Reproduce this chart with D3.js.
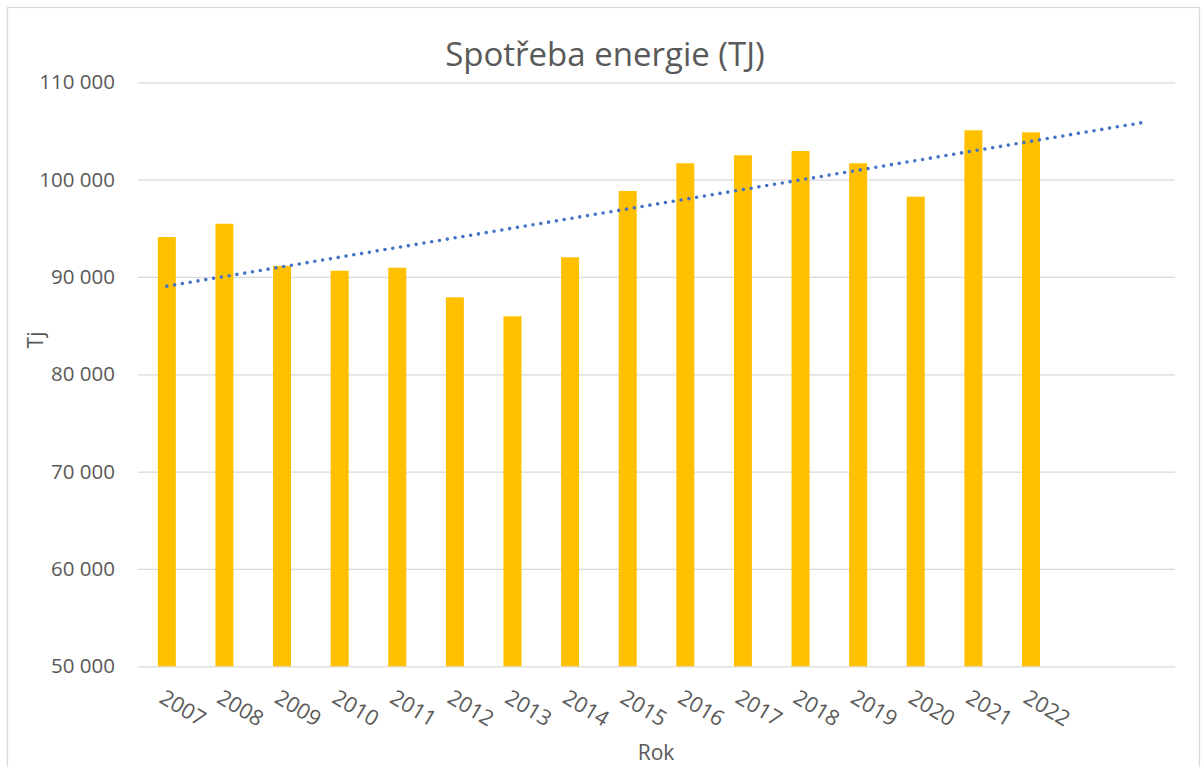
<!DOCTYPE html>
<html>
<head>
<meta charset="utf-8">
<script src="https://cdn.jsdelivr.net/npm/d3@7"></script>
<style>
  body{margin:0;background:#fff;}
  svg text{font-family:"Open Sans",sans-serif;fill:#595959;}
</style>
</head>
<body>
<svg id="chart" width="1202" height="767"></svg>
<script>
// data
var years=['2007','2008','2009','2010','2011','2012','2013','2014','2015','2016','2017','2018','2019','2020','2021','2022'];
var values=[94100,95470,91130,90640,90950,87910,85960,92020,98830,101680,102500,102940,101680,98250,105070,104860];
var forecastSlots=['2023','2024']; // trend goes 2 periods forward, no labels there
var yTicks=[50000,60000,70000,80000,90000,100000,110000];
var title='Spotřeba energie (TJ)';
var yTitle='Tj', xTitle='Rok';

var svg=d3.select('#chart');
var m={left:138,right:1175,top:82.3,bottom:666.3};

// outer chart border
svg.append('rect')
  .attr('x',7.5).attr('y',7.5).attr('width',1192).attr('height',775)
  .attr('fill','none').attr('stroke','#d9d9d9').attr('stroke-width',1.3);

var allCats=years.concat(forecastSlots);
var x=d3.scaleBand().domain(allCats).range([m.left,m.right]).paddingInner(0.6875).paddingOuter(0.34375);
var y=d3.scaleLinear().domain([50000,110000]).range([m.bottom,m.top]);
var fmt=function(v){return d3.format(',')(v).replace(/,/g,' ');};

// gridlines + y labels
var yAxis=svg.append('g').attr('transform','translate('+m.left+',0)')
  .call(d3.axisLeft(y).tickValues(yTicks).tickSize(-(m.right-m.left)).tickPadding(23).tickFormat(fmt));
yAxis.select('.domain').remove();
yAxis.selectAll('.tick line').attr('stroke','#d9d9d9').attr('stroke-width',1.3);
yAxis.selectAll('.tick text').attr('font-size',20.5).attr('fill','#595959');

// bars
svg.append('g').selectAll('rect').data(years).join('rect')
  .attr('x',function(d){return x(d);})
  .attr('width',x.bandwidth())
  .attr('y',function(d,i){return y(values[i]);})
  .attr('height',function(d,i){return y(50000)-y(values[i]);})
  .attr('fill','#ffc000');

// linear trend (least squares), forecast forward 2 periods
var n=values.length, xs=d3.range(1,n+1);
var mx=d3.mean(xs), my=d3.mean(values);
var slope=d3.sum(xs,function(v,i){return (v-mx)*(values[i]-my);})/d3.sum(xs,function(v){return (v-mx)*(v-mx);});
var icpt=my-slope*mx;
var trendPts=[1,n+forecastSlots.length].map(function(k){
  return [x(allCats[k-1])+x.bandwidth()/2,y(icpt+slope*k)];
});
svg.append('path').attr('d',d3.line()(trendPts))
  .attr('fill','none').attr('stroke','#4472c4').attr('stroke-width',3.6)
  .attr('stroke-linecap','round').attr('stroke-dasharray','0 7.9');

// x labels, rotated
svg.append('g').selectAll('text').data(years).join('text')
  .attr('transform',function(d){return 'translate('+(x(d)+x.bandwidth()/2)+',687) rotate(31)';})
  .attr('dy','0.8em')
  .attr('font-size',21.5)
  .text(function(d){return d;});

// titles
svg.append('text').attr('x',605).attr('y',66).attr('text-anchor','middle').attr('font-size',33).text(title);
svg.append('text').attr('transform','translate(43,340) rotate(-90)').attr('text-anchor','middle').attr('font-size',21).text(yTitle);
svg.append('text').attr('x',656).attr('y',760).attr('text-anchor','middle').attr('font-size',21).text(xTitle);
</script>
</body>
</html>
